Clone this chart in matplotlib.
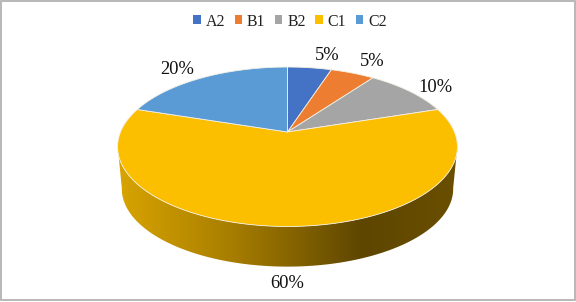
import numpy as np
from matplotlib import pyplot as plt
from matplotlib.colors import LinearSegmentedColormap
from matplotlib.patches import Patch, Polygon, Rectangle

categories = ["A2", "B1", "B2", "C1", "C2"]
shares = [5, 5, 10, 60, 20]
colors = ["#4472C4", "#ED7D31", "#A5A5A5", "#FBBF00", "#5B9BD5"]

plt.rcParams['font.family'] = ['Liberation Serif', 'DejaVu Serif']

# perspective of the tilted disc, all in pixels
hub_x, hub_y = 287.5, 132
rx, ry, k = 167, 77, 0.185


def project(theta, cx=hub_x, cy=hub_y, scale=1.0):
    # theta in degrees, clockwise from the top
    t = np.radians(theta)
    x, y = np.sin(t), np.cos(t)
    w = 1 + k * y
    return np.column_stack([cx + scale * rx * x / w, cy - scale * ry * y / w])


fig = plt.figure(figsize=(5.76, 3.02), dpi=100, facecolor="white")
ax = fig.add_axes([0, 0, 1, 1])

# side wall, only the front is visible, runs between the widest points of the disc
front = np.linspace(100, 260, 200)
wall = np.vstack([project(front), project(front[::-1], cy=174.5, scale=0.975)])
clip = Polygon(wall, closed=True, transform=ax.transData, fc="none", ec="none")
ax.add_patch(clip)
wall_cmap = LinearSegmentedColormap.from_list(
    "wall", [(0, "#D8A400"), (0.33, "#A87E00"), (0.72, "#5E4600"), (1, "#6A4F00")])
grad = ax.imshow(np.linspace(0, 1, 340)[None, :], cmap=wall_cmap, extent=[118, 458, 270, 140],
                 aspect="auto", zorder=1)
grad.set_clip_path(clip)

# top of the pie
edges = np.concatenate([[0], np.cumsum(shares) / np.sum(shares) * 360])
for i, c in enumerate(colors):
    arc = np.linspace(edges[i], edges[i + 1], 120)
    pts = np.vstack([[hub_x, hub_y], project(arc)])
    ax.add_patch(Polygon(pts, closed=True, fc=c, ec="#F4F0E4", lw=0.6, zorder=2))

# data labels
label_x = [326.7, 371.7, 435.5, 287, 177.5]
label_y = [55, 61.7, 87, 283, 69.7]
for v, x, y in zip(shares, label_x, label_y):
    ax.text(x, y, "{}%".format(v), fontsize=13.3, color="#111111", ha="center", va="center", zorder=3)

handles = [Patch(facecolor=c, edgecolor="none", label=n) for n, c in zip(categories, colors)]
ax.legend(handles=handles, ncol=5, loc="center", bbox_to_anchor=(290 / 576, 1 - 21.5 / 302), frameon=False,
          fontsize=11.4, handlelength=0.46, handleheight=0.48, handletextpad=0.3, columnspacing=0.62,
          borderpad=0, labelcolor="#222222")

# picture frame
ax.add_patch(Rectangle((0.5, 0.5), 574, 299.5, fc="none", ec="#B2B2B2", lw=1.3, zorder=4))

ax.set_xlim(0, 576)
ax.set_ylim(302, 0)
ax.axis("off")

fig.savefig("out.png", dpi=100)
